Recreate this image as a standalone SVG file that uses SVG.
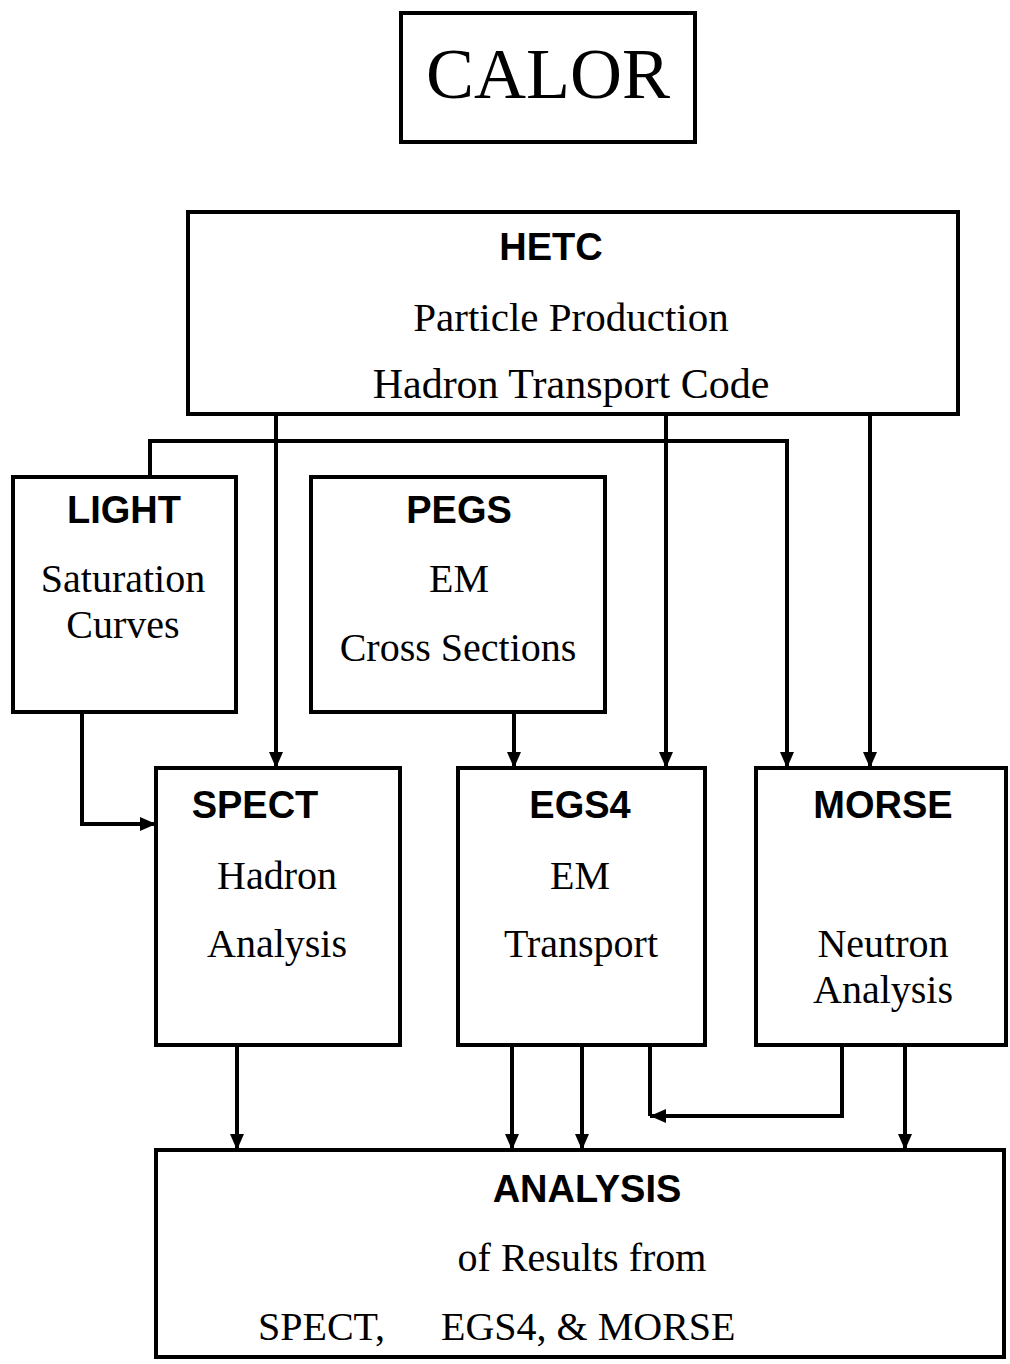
<svg xmlns="http://www.w3.org/2000/svg" width="1010" height="1364" viewBox="0 0 1010 1364">
<style>
.box{fill:#fff;stroke:#000;stroke-width:4}
.t{font-family:"Liberation Serif","Times New Roman",serif;font-size:40px;fill:#000;text-anchor:middle}
.b{font-family:"Liberation Sans",Arial,sans-serif;font-weight:bold;font-size:38px;fill:#000;text-anchor:middle}
.c{fill:none;stroke:#000;stroke-width:4}
</style>
<defs>
<marker id="ah" viewBox="0 0 16 14" refX="16" refY="7" markerWidth="16" markerHeight="14" orient="auto" markerUnits="userSpaceOnUse">
<path d="M0,0 L16,7 L0,14 z" fill="#000"/>
</marker>
</defs>
<rect width="1010" height="1364" fill="#fff"/>
<g id="connectors">
<path class="c" d="M276,414 V768" marker-end="url(#ah)"/>
<path class="c" d="M666,414 V768" marker-end="url(#ah)"/>
<path class="c" d="M870,414 V768" marker-end="url(#ah)"/>
<path class="c" d="M150,477 V441 H787 V768" marker-end="url(#ah)"/>
<path class="c" d="M82,712 V824 H156" marker-end="url(#ah)"/>
<path class="c" d="M514,712 V768" marker-end="url(#ah)"/>
<path class="c" d="M237,1045 V1150" marker-end="url(#ah)"/>
<path class="c" d="M512,1045 V1150" marker-end="url(#ah)"/>
<path class="c" d="M582,1045 V1150" marker-end="url(#ah)"/>
<path class="c" d="M650,1045 V1116"/>
<path class="c" d="M842,1045 V1116 H650" marker-end="url(#ah)"/>
<path class="c" d="M905,1045 V1150" marker-end="url(#ah)"/>
</g>
<g id="calor">
<rect class="box" x="401" y="13" width="294" height="129"/>
<text class="t" x="548" y="98" style="font-size:72px">CALOR</text>
</g>
<g id="hetc">
<rect class="box" x="188" y="212" width="770" height="202"/>
<text class="b" x="551" y="260">HETC</text>
<text class="t" x="571" y="331" style="font-size:41px">Particle Production</text>
<text class="t" x="571" y="398" style="font-size:42px">Hadron Transport Code</text>
</g>
<g id="light">
<rect class="box" x="13" y="477" width="223" height="235"/>
<text class="b" x="124" y="523">LIGHT</text>
<text class="t" x="123" y="592">Saturation</text>
<text class="t" x="123" y="638">Curves</text>
</g>
<g id="pegs">
<rect class="box" x="311" y="477" width="294" height="235"/>
<text class="b" x="459" y="523">PEGS</text>
<text class="t" x="459" y="592">EM</text>
<text class="t" x="458" y="661">Cross Sections</text>
</g>
<g id="spect">
<rect class="box" x="156" y="768" width="244" height="277"/>
<text class="b" x="255" y="818">SPECT</text>
<text class="t" x="277" y="889">Hadron</text>
<text class="t" x="277" y="957">Analysis</text>
</g>
<g id="egs4">
<rect class="box" x="458" y="768" width="247" height="277"/>
<text class="b" x="580" y="818">EGS4</text>
<text class="t" x="580" y="889">EM</text>
<text class="t" x="581" y="957">Transport</text>
</g>
<g id="morse">
<rect class="box" x="756" y="768" width="250" height="277"/>
<text class="b" x="883" y="818">MORSE</text>
<text class="t" x="883" y="957">Neutron</text>
<text class="t" x="883" y="1003">Analysis</text>
</g>
<g id="analysis">
<rect class="box" x="156" y="1150" width="848" height="207"/>
<text class="b" x="587" y="1202">ANALYSIS</text>
<text class="t" x="582" y="1271">of Results from</text>
<text class="t" y="1340" style="text-anchor:start"><tspan x="258">SPECT,</tspan><tspan x="441">EGS4, &amp; MORSE</tspan></text>
</g>
</svg>
